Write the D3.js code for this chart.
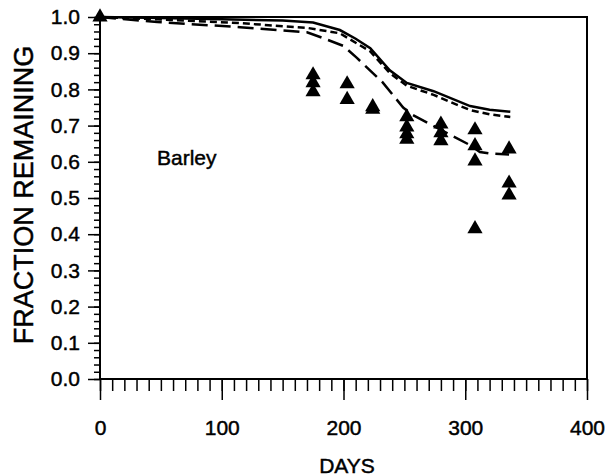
<!DOCTYPE html>
<html><head><meta charset="utf-8">
<script src="https://cdn.jsdelivr.net/npm/d3@7"></script>
<style>body{margin:0;background:#fff}svg{display:block}text{font-family:"Liberation Sans",Arial,sans-serif;fill:#000;stroke:#000;stroke-width:0.45px}</style>
</head><body><svg id="c" width="608" height="476"></svg>
<script>
// ---- data ----
const xTicks = [0, 100, 200, 300, 400];
const yTicks = [0.0, 0.1, 0.2, 0.3, 0.4, 0.5, 0.6, 0.7, 0.8, 0.9, 1.0];
const obsDays = [0, 175, 175, 175, 203, 203, 224, 224, 252, 252, 252, 252, 280, 280, 280, 308, 308, 308, 308, 336, 336, 336];
const obsValues = [1.0, 0.84, 0.818, 0.793, 0.815, 0.772, 0.752, 0.745, 0.724, 0.696, 0.677, 0.662, 0.704, 0.68, 0.658, 0.688, 0.644, 0.602, 0.415, 0.635, 0.541, 0.508];
const solidDays = [0, 50, 100, 150, 175, 197, 210, 222, 238, 252, 274, 304, 320, 337];
const solidValues = [1.0, 0.997, 0.994, 0.99, 0.985, 0.964, 0.94, 0.914, 0.853, 0.818, 0.795, 0.754, 0.744, 0.738];
const shortDashDays = [0, 50, 115, 170, 197, 222, 238, 252, 274, 290, 304, 320, 337];
const shortDashValues = [1.0, 0.993, 0.983, 0.97, 0.955, 0.905, 0.845, 0.81, 0.785, 0.762, 0.743, 0.731, 0.724];
const longDashDays = [0, 47, 115, 170, 183, 200, 211, 232, 249, 257, 288, 304, 312, 320, 336];
const longDashValues = [1.0, 0.986, 0.972, 0.958, 0.942, 0.92, 0.887, 0.82, 0.75, 0.729, 0.674, 0.646, 0.627, 0.623, 0.62];
const label = "Barley";

// ---- chart ----
const svg = d3.select("#c");
const L = 100, R = 587, T = 17, B = 379;
const x = d3.scaleLinear().domain([0, 400]).range([L, R]);
const y = d3.scaleLinear().domain([0, 1]).range([B, T]);
const FONT = "Liberation Sans, Arial, sans-serif";

// frame
svg.append("rect").attr("x", L).attr("y", T).attr("width", R - L).attr("height", B - T)
  .attr("fill", "none").attr("stroke", "#000").attr("stroke-width", 2);

// x axis minor + major
svg.append("g").attr("transform", `translate(0,${B})`)
  .call(d3.axisBottom(x).tickValues(d3.range(0, 401, 10)).tickSize(12).tickFormat(""))
  .call(g => g.select(".domain").remove());
const gx = svg.append("g").attr("transform", `translate(0,${B})`)
  .call(d3.axisBottom(x).tickValues(xTicks).tickSize(21).tickPadding(20).tickFormat(d3.format("d")))
  .call(g => g.select(".domain").remove());
gx.selectAll("text").attr("font-size", 21).attr("font-family", FONT).attr("fill", "#000");

// y axis
svg.append("g").attr("transform", `translate(${L},0)`)
  .call(d3.axisLeft(y).tickValues(d3.range(0, 51).map(i => i / 50)).tickSize(6).tickFormat(""))
  .call(g => g.select(".domain").remove());
const gy = svg.append("g").attr("transform", `translate(${L},0)`)
  .call(d3.axisLeft(y).tickValues(yTicks).tickSize(12).tickPadding(8).tickFormat(d3.format(".1f")))
  .call(g => g.select(".domain").remove());
gy.selectAll("text").attr("font-size", 21).attr("font-family", FONT).attr("fill", "#000");
svg.selectAll(".tick line").attr("stroke", "#000").attr("stroke-width", 1.5);

// lines
const line = d3.line().x(d => x(d[0])).y(d => y(d[1]));
const series = [
  {d: solidDays, v: solidValues, dash: null},
  {d: shortDashDays, v: shortDashValues, dash: "7,4"},
  {d: longDashDays, v: longDashValues, dash: "16,7"}
];
series.forEach(s => {
  svg.append("path").datum(s.d.map((d, i) => [d, s.v[i]]))
    .attr("d", line).attr("fill", "none").attr("stroke", "#000")
    .attr("stroke-width", 2.5).attr("stroke-dasharray", s.dash);
});

// triangles
const tri = d3.symbol().type(d3.symbolTriangle).size(100);
svg.append("g").selectAll("path").data(obsDays.map((d, i) => [d, obsValues[i]])).join("path")
  .attr("d", tri).attr("transform", d => `translate(${x(d[0])},${y(d[1])})`).attr("fill", "#000");

// texts
svg.append("text").attr("x", 157).attr("y", 165).attr("font-size", 21).text(label);
svg.append("text").attr("x", 347).attr("y", 473).attr("text-anchor", "middle").attr("font-size", 21).text("DAYS");
svg.append("text").attr("transform", `translate(33,195) rotate(-90)`).attr("text-anchor", "middle")
  .attr("font-size", 27).text("FRACTION REMAINING");
</script></body></html>
